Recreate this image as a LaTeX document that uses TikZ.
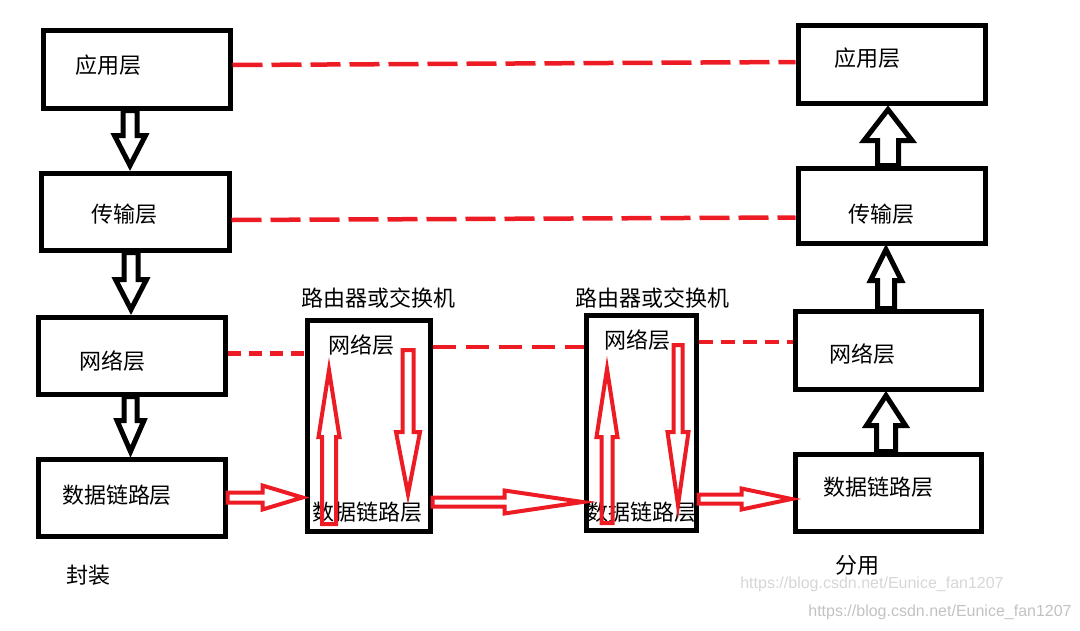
\documentclass[tikz,border=0pt]{standalone}
\usepackage{fontspec}
\newfontfamily\cjk{Noto Sans CJK SC}
\newfontfamily\wmfont{Liberation Sans}
\usetikzlibrary{calc}
\definecolor{paintred}{RGB}{237,28,36}

% hollow block arrow: [style]{from}{to}{shaft half}{head half}{head length}
\newcommand{\fatarrow}[6][]{%
  \coordinate (fa-s) at (#2);
  \coordinate (fa-e) at (#3);
  \coordinate (fa-h) at ($(fa-e)!#6!(fa-s)$);
  \draw[#1] ($(fa-s)!#4!90:(fa-e)$) -- ($(fa-h)!#4!90:(fa-e)$) -- ($(fa-h)!#5!90:(fa-e)$)
    -- (fa-e) -- ($(fa-h)!#5!-90:(fa-e)$) -- ($(fa-h)!#4!-90:(fa-e)$) -- ($(fa-s)!#4!-90:(fa-e)$) -- cycle;
}

\begin{document}
\begin{tikzpicture}[x=1pt, y=-1pt,
  layer/.style={draw, line width=5pt, inner sep=0pt},
  lbl/.style={font=\cjk\fontsize{22}{26}\selectfont, inner sep=0pt},
  wm/.style={font=\wmfont\fontsize{16}{18}\selectfont, inner sep=0pt},
  blk/.style={draw=black, line width=5pt},
  redarrow/.style={draw=paintred, line width=4pt},
  link/.style={draw=paintred, line width=4.5pt}]
\useasboundingbox (0,0) rectangle (1080,630);

% sending host
\node[layer, minimum width=187pt, minimum height=78pt] (lapp) at (136.5,69) {};
\node[layer, minimum width=188pt, minimum height=77pt] (ltra) at (135,211.5) {};
\node[layer, minimum width=187pt, minimum height=77pt] (lnet) at (131.5,355.5) {};
\node[layer, minimum width=187pt, minimum height=77pt] (llink) at (131.5,497.5) {};
\node[lbl] (lapp-t) at (108,65) {应用层};
\node[lbl] (ltra-t) at (124,214) {传输层};
\node[lbl] (lnet-t) at (112,361) {网络层};
\node[lbl] (llink-t) at (117,495) {数据链路层};
\node[lbl] (encap) at (88,575) {封装};

% routers
\node[layer, minimum width=123pt, minimum height=211pt] (r1) at (368.5,425.5) {};
\node[layer, minimum width=110pt, minimum height=215pt] (r2) at (641,422.5) {};
\node[lbl] (r1-title) at (378,298) {路由器或交换机};
\node[lbl] (r2-title) at (652,298) {路由器或交换机};
\node[lbl] (r1net) at (361,345) {网络层};
\node[lbl] (r1link) at (367,512) {数据链路层};
\node[lbl] (r2net) at (637,340) {网络层};
\node[lbl] (r2link) at (641,512) {数据链路层};

% receiving host
\node[layer, minimum width=187pt, minimum height=78pt] (rapp) at (891.5,64) {};
\node[layer, minimum width=187pt, minimum height=75pt] (rtra) at (891.5,205.5) {};
\node[layer, minimum width=186pt, minimum height=78pt] (rnet) at (888,350) {};
\node[layer, minimum width=186pt, minimum height=77pt] (rlink) at (888,492.5) {};
\node[lbl] (rapp-t) at (867,58) {应用层};
\node[lbl] (rtra-t) at (881,214) {传输层};
\node[lbl] (rnet-t) at (862,354) {网络层};
\node[lbl] (rlink-t) at (878,487) {数据链路层};
\node[lbl] (demux) at (857,565) {分用};

\node[wm, text=black!16] (wm1) at (872,584) {https://blog.csdn.net/Eunice\_fan1207};
\node[wm, text=black!24] (wm2) at (940,612) {https://blog.csdn.net/Eunice\_fan1207};

% peer layers
\draw[link, dash pattern=on 30pt off 9pt] ($(lapp.east)+(0,-4)$) -- ($(rapp.west)+(0,-2)$);
\draw[link, dash pattern=on 30pt off 9pt] ($(ltra.east)+(0,8.5)$) -- ($(rtra.west)+(0,12)$);
\draw[link, dash pattern=on 13pt off 8pt] ($(lnet.east)+(0,-2)$) -- ($(lnet.east -| r1.west)+(0,-2)$);
\draw[link, dash pattern=on 23pt off 10pt] ($(r1.east |- r1net)+(0,2)$) -- ($(r2.west |- r1net)+(0,2)$);
\draw[link, dash pattern=on 14pt off 8pt] ($(r2.east |- r2net)+(0,2)$) -- ($(rnet.west |- r2net)+(0,2)$);

% down the sender
\fatarrow[blk]{$(lapp.south)+(-6.5,0)$}{$(ltra.north)+(-5,-5)$}{7pt}{15.5pt}{30pt}
\fatarrow[blk]{$(ltra.south)+(-4,0)$}{$(lnet.north)+(-0.5,-5)$}{7pt}{15.5pt}{30pt}
\fatarrow[blk]{$(lnet.south)+(-1,0)$}{$(llink.north)+(-1,-5)$}{6.5pt}{13.5pt}{31pt}

% up the receiver
\fatarrow[blk]{$(rtra.north)+(-3.5,0)$}{$(rapp.south)+(-3.5,4)$}{10.5pt}{24pt}{31pt}
\fatarrow[blk]{$(rnet.north)+(-2,0)$}{$(rtra.south)+(-5.5,4)$}{8.5pt}{15.5pt}{31pt}
\fatarrow[blk]{$(rlink.north)+(-2,0)$}{$(rnet.south)+(-2,4)$}{9.5pt}{19.5pt}{30pt}

% along the links
\fatarrow[redarrow]{llink.east}{$(r1.west |- llink.east)+(-2,0)$}{5pt}{12pt}{40pt}
\fatarrow[redarrow]{$(r1link.east -| r1.east)+(0,-10)$}{$(r1link.east -| r2.west)+(-1,-10)$}{4.5pt}{11.5pt}{78pt}
\fatarrow[redarrow]{$(r2.east |- rlink.west)+(0,6.5)$}{$(rlink.west)+(-1,6.5)$}{4.5pt}{10.5pt}{50pt}

% inside the routers
\coordinate (r1upfoot) at (329,524);
\coordinate (r1uptip) at (329,370);
\coordinate (r1dntop) at (408,350);
\coordinate (r1dntip) at (408,494);
\coordinate (r2upfoot) at (607,523);
\coordinate (r2uptip) at (607,369);
\coordinate (r2dntop) at (678,345);
\coordinate (r2dntip) at (678,505);
\fatarrow[redarrow]{r1upfoot}{r1uptip}{7pt}{10.5pt}{67pt}
\fatarrow[redarrow]{r1dntop}{r1dntip}{5.5pt}{12pt}{62pt}
\fatarrow[redarrow]{r2upfoot}{r2uptip}{5.5pt}{10.5pt}{68pt}
\fatarrow[redarrow]{r2dntop}{r2dntip}{4.5pt}{10.5pt}{73pt}
\end{tikzpicture}
\end{document}
